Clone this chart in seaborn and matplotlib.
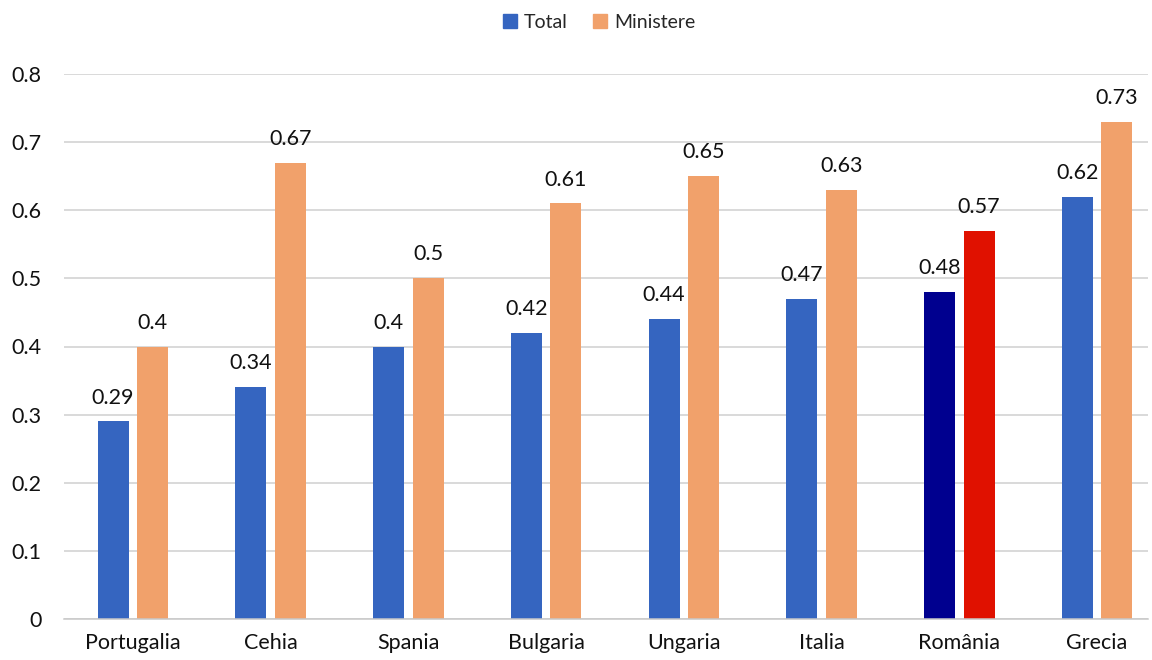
import matplotlib
matplotlib.use("Agg")
import matplotlib.pyplot as plt
from matplotlib.lines import Line2D
import seaborn as sns
import pandas as pd

# Data
countries = ["Portugalia", "Cehia", "Spania", "Bulgaria", "Ungaria", "Italia", "România", "Grecia"]
total = [0.29, 0.34, 0.40, 0.42, 0.44, 0.47, 0.48, 0.62]
ministere = [0.40, 0.67, 0.50, 0.61, 0.65, 0.63, 0.57, 0.73]
series_names = ["Total", "Ministere"]
y_ticks = [0.0, 0.1, 0.2, 0.3, 0.4, 0.5, 0.6, 0.7, 0.8]
y_tick_labels = ["0", "0.1", "0.2", "0.3", "0.4", "0.5", "0.6", "0.7", "0.8"]

BLUE = "#3565C0"
ORANGE = "#F1A16B"
NAVY = "#00008F"
RED = "#E01100"

df = pd.DataFrame({
    "country": countries * 2,
    "value": total + ministere,
    "series": [series_names[0]] * len(countries) + [series_names[1]] * len(countries),
})

sns.set_theme(style="white")
plt.rcParams["font.family"] = ["Lato", "DejaVu Sans"]

fig = plt.figure(figsize=(11.52, 6.6), dpi=100)
ax = fig.add_axes([64 / 1152, 1 - 619 / 660, (1148 - 64) / 1152, (619 - 74) / 660])

sns.barplot(data=df, x="country", y="value", hue="series", order=countries,
            hue_order=series_names, palette=[BLUE, ORANGE], width=0.574, gap=0.216,
            saturation=1, legend=False, ax=ax, linewidth=0)

# Highlight Romania
ro = countries.index("România")
ax.containers[0][ro].set_facecolor(NAVY)
ax.containers[1][ro].set_facecolor(RED)

for cont in ax.containers:
    ax.bar_label(cont, labels=[f"{v:g}" for v in cont.datavalues], padding=10,
                 fontsize=15.5, color="#111111")

ax.set_ylim(0, 0.8)
ax.set_xlim(-0.5, 7.37)
ax.set_yticks(y_ticks)
ax.set_yticklabels(y_tick_labels)
ax.yaxis.grid(True, color="#D0D0D0", linewidth=1.1)
ax.set_axisbelow(True)
for s in ["top", "right", "left"]:
    ax.spines[s].set_visible(False)
ax.spines["bottom"].set_color("#C8C8C8")
ax.spines["bottom"].set_linewidth(1.1)
ax.tick_params(axis="y", length=0, pad=16, labelsize=15.5, labelcolor="#111111")
ax.tick_params(axis="x", length=0, pad=10, labelsize=15.5, labelcolor="#111111")
ax.set_xlabel("")
ax.set_ylabel("")

handles = [Line2D([], [], marker="s", linestyle="", markersize=10, color=c)
           for c in (BLUE, ORANGE)]
fig.legend(handles, series_names, loc="center", bbox_to_anchor=(0.517, 1 - 22 / 660),
           ncol=2, frameon=False, fontsize=14, handletextpad=0.0, columnspacing=1.0,
           handlelength=1.4)

fig.savefig("out.png", dpi=100, facecolor="white")
